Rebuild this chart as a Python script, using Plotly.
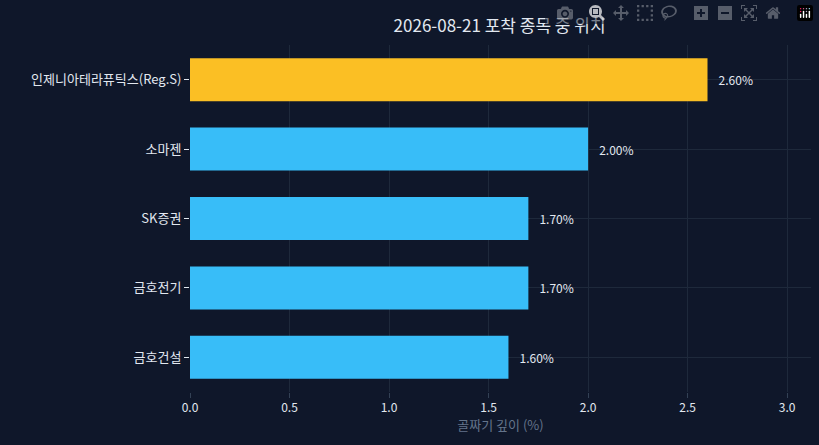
import plotly.graph_objects as go

categories = ["금호건설", "금호전기", "SK증권", "소마젠", "인제니아테라퓨틱스(Reg.S)"]
values = [1.6, 1.7, 1.7, 2.0, 2.6]
colors = ["#38bdf8", "#38bdf8", "#38bdf8", "#38bdf8", "#fbbf24"]
labels = [f"   {v:.2f}%" for v in values]

fig = go.Figure(go.Bar(
    y=categories, x=values, orientation="h", marker=dict(color=colors, line=dict(width=0)),
    text=labels, textposition="outside", textfont=dict(color="#e2e8f0", size=12),
    width=0.62, cliponaxis=False,
))
fig.update_layout(
    width=819, height=445,
    paper_bgcolor="#0f172a", plot_bgcolor="#0f172a",
    font=dict(family="Noto Sans CJK KR", color="#e2e8f0", size=13),
    title=dict(text="2026-08-21 포착 종목 중 위치", x=0.61, xanchor="center", y=0.955, font=dict(size=17, color="#e2e8f0")),
    margin=dict(l=190, r=8, t=45, b=53),
    xaxis=dict(range=[0, 3.12], dtick=0.5, tickformat=".1f", gridcolor="#1e293b", zeroline=False,
               title=dict(text="골짜기 깊이 (%)", font=dict(size=13, color="#64748b"), standoff=4),
               tickfont=dict(size=12, color="#e2e8f0"), ticks="outside", ticklen=5, tickcolor="#334155"),
    yaxis=dict(gridcolor="#1e293b", ticks="outside", ticklen=5, tickcolor="#e2e8f0",
               tickfont=dict(size=13, color="#e2e8f0")),
    showlegend=False,
)
fig.write_html("out.html")
with open("out.html", encoding="utf-8") as f:
    html = f.read()
html = html.replace("<body>", '<body style="margin:0;background:#0f172a">', 1)
with open("out.html", "w", encoding="utf-8") as f:
    f.write(html)
